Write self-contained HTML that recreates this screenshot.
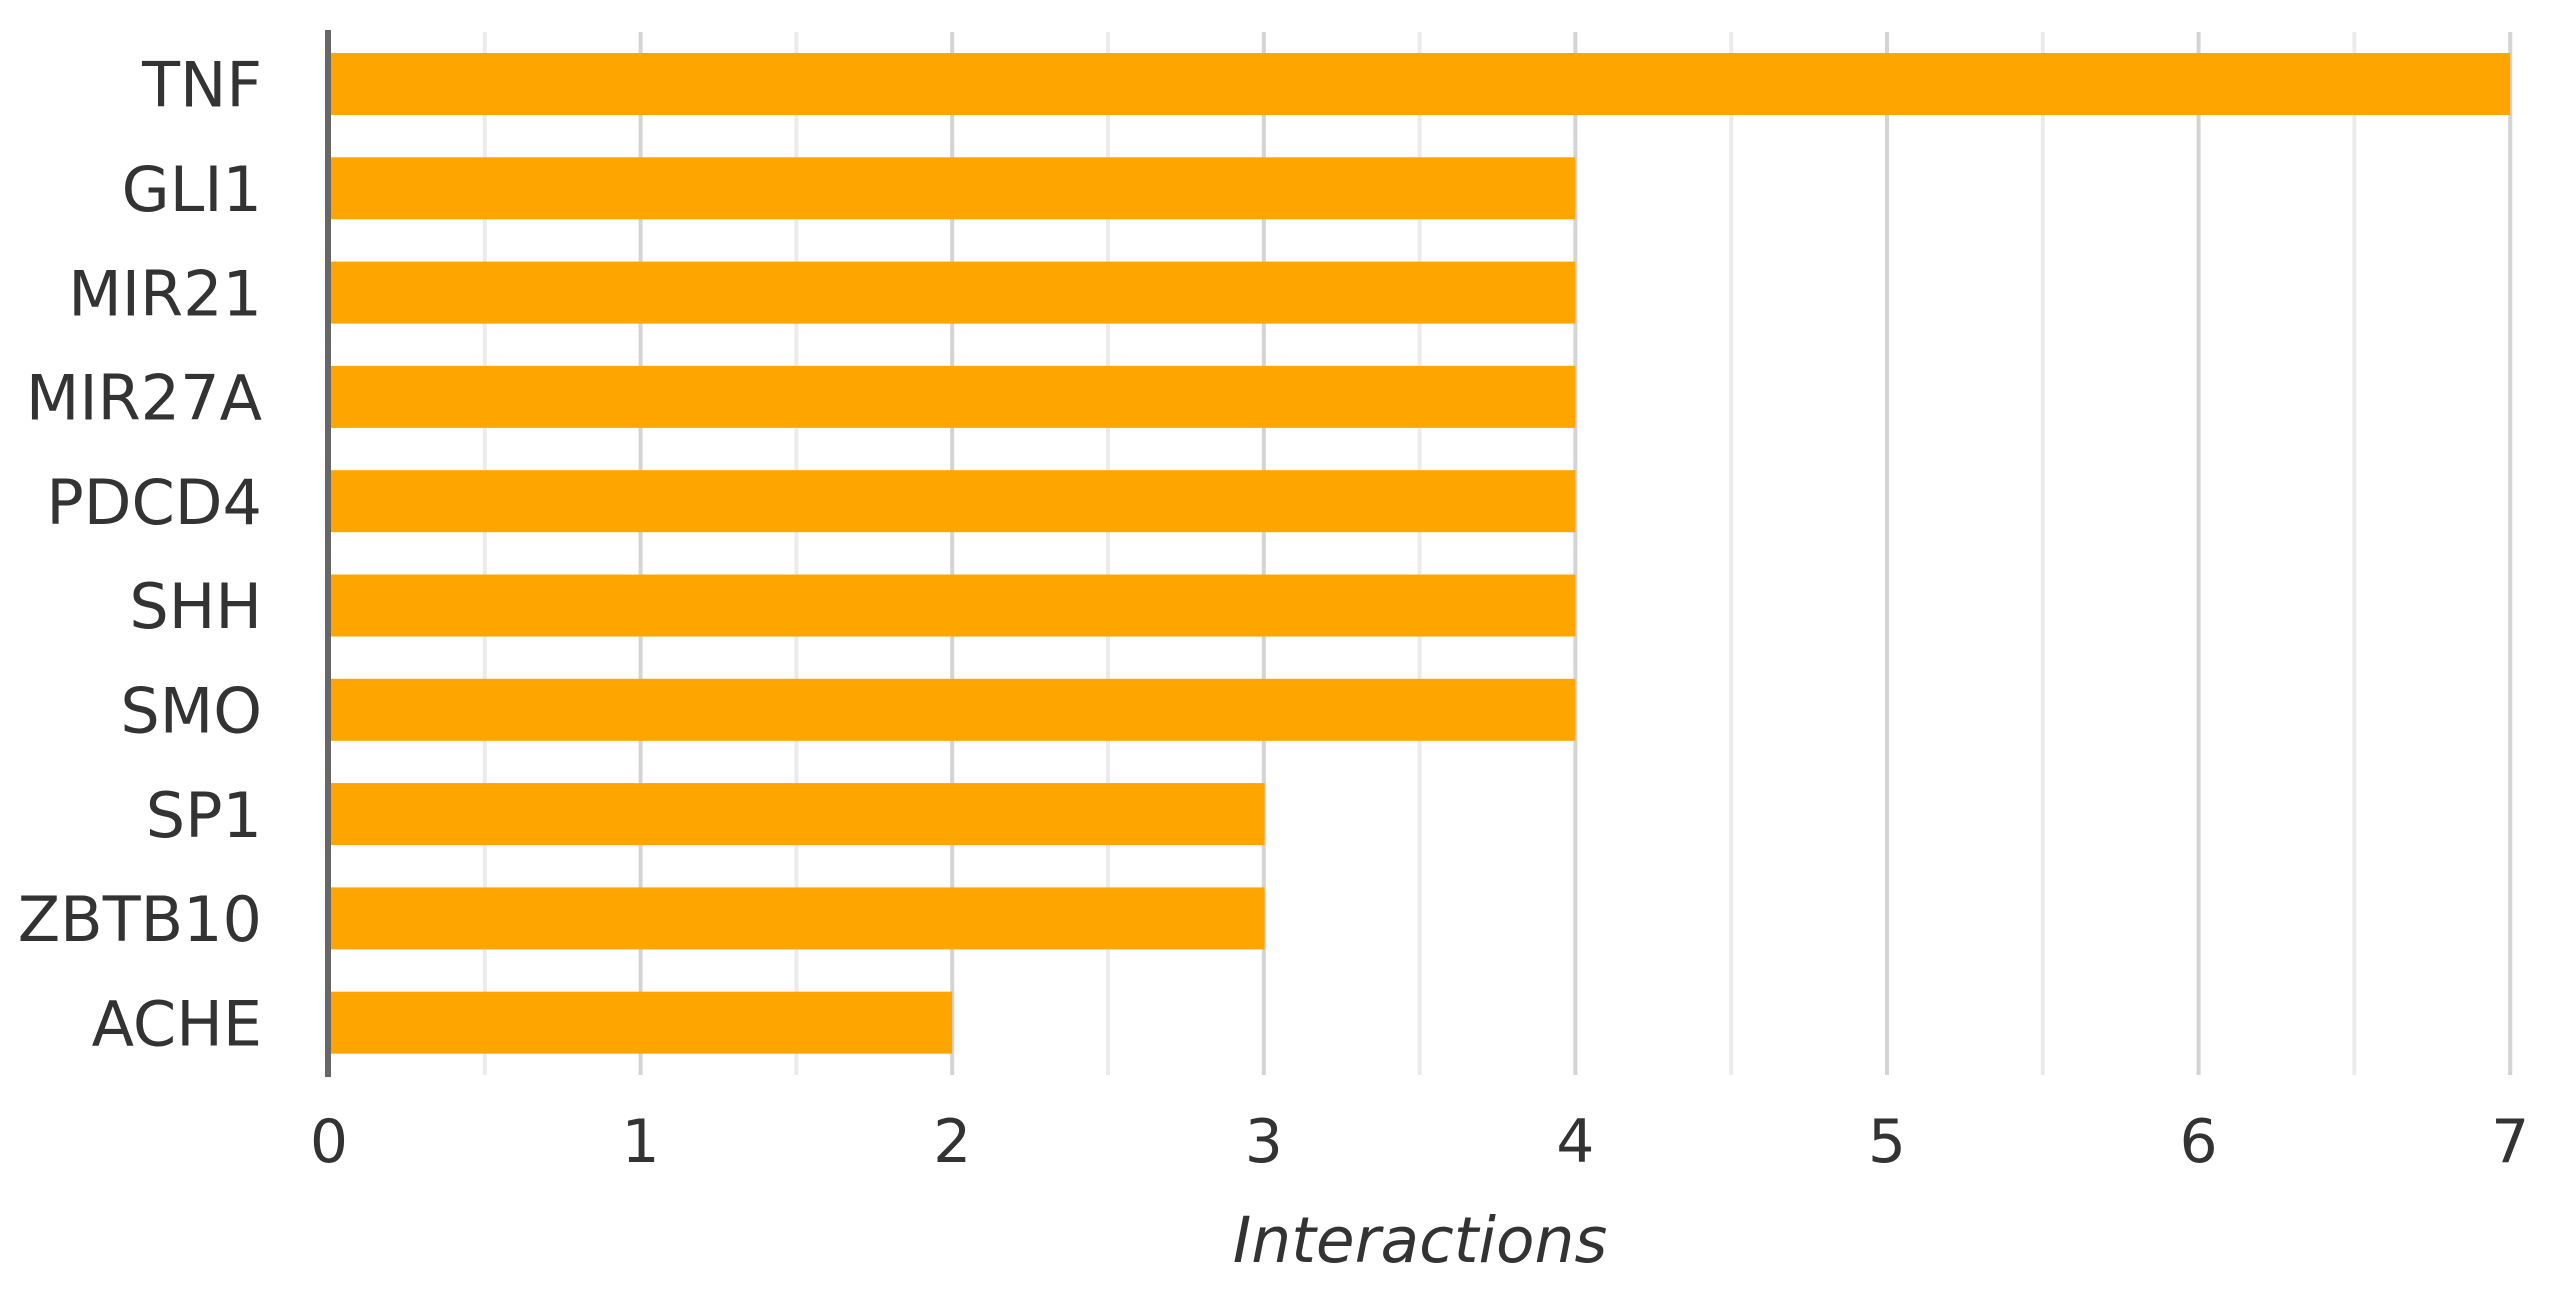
<!DOCTYPE html>
<html>
<head>
<meta charset="utf-8">
<style>
  html, body { margin: 0; padding: 0; background: #ffffff; }
  svg { display: block; }
  text { font-family: "DejaVu Sans", "Liberation Sans", sans-serif; fill: #333333; }
</style>
</head>
<body>
<svg width="2565" height="1290" viewBox="0 0 2565 1290" xmlns="http://www.w3.org/2000/svg">
  <rect x="0" y="0" width="2565" height="1290" fill="#ffffff"/>
  <!-- minor gridlines (half units) -->
  <g stroke="#ebebeb" stroke-width="4">
    <line x1="484.8" y1="32" x2="484.8" y2="1075"/>
    <line x1="796.4" y1="32" x2="796.4" y2="1075"/>
    <line x1="1108" y1="32" x2="1108" y2="1075"/>
    <line x1="1419.6" y1="32" x2="1419.6" y2="1075"/>
    <line x1="1731.2" y1="32" x2="1731.2" y2="1075"/>
    <line x1="2042.8" y1="32" x2="2042.8" y2="1075"/>
    <line x1="2354.4" y1="32" x2="2354.4" y2="1075"/>
  </g>
  <!-- major gridlines -->
  <g stroke="#d4d4d4" stroke-width="4">
    <line x1="640.6" y1="32" x2="640.6" y2="1075"/>
    <line x1="952.2" y1="32" x2="952.2" y2="1075"/>
    <line x1="1263.8" y1="32" x2="1263.8" y2="1075"/>
    <line x1="1575.4" y1="32" x2="1575.4" y2="1075"/>
    <line x1="1887" y1="32" x2="1887" y2="1075"/>
    <line x1="2198.6" y1="32" x2="2198.6" y2="1075"/>
    <line x1="2510.2" y1="32" x2="2510.2" y2="1075"/>
  </g>
  <!-- bars -->
  <g fill="#FFA500">
    <rect x="331" y="53" width="2179.2" height="62"/>
    <rect x="331" y="157.3" width="1244.4" height="62"/>
    <rect x="331" y="261.6" width="1244.4" height="62"/>
    <rect x="331" y="365.9" width="1244.4" height="62"/>
    <rect x="331" y="470.2" width="1244.4" height="62"/>
    <rect x="331" y="574.5" width="1244.4" height="62"/>
    <rect x="331" y="678.8" width="1244.4" height="62"/>
    <rect x="331" y="783.1" width="933.6" height="62"/>
    <rect x="331" y="887.4" width="933.6" height="62"/>
    <rect x="331" y="991.7" width="621.2" height="62"/>
  </g>
  <!-- axis line -->
  <line x1="328" y1="30" x2="328" y2="1077" stroke="#666666" stroke-width="6"/>
  <!-- category labels -->
  <g font-size="62" text-anchor="end">
    <text x="262" y="106.7">TNF</text>
    <text x="262" y="211">GLI1</text>
    <text x="262" y="315.3">MIR21</text>
    <text x="262" y="419.6">MIR27A</text>
    <text x="262" y="523.9">PDCD4</text>
    <text x="262" y="628.2">SHH</text>
    <text x="262" y="732.5">SMO</text>
    <text x="262" y="836.8">SP1</text>
    <text x="262" y="941.1">ZBTB10</text>
    <text x="262" y="1045.4">ACHE</text>
  </g>
  <!-- tick labels -->
  <g font-size="60" text-anchor="middle">
    <text x="329" y="1162">0</text>
    <text x="640.6" y="1162">1</text>
    <text x="952.2" y="1162">2</text>
    <text x="1263.8" y="1162">3</text>
    <text x="1575.4" y="1162">4</text>
    <text x="1887" y="1162">5</text>
    <text x="2198.6" y="1162">6</text>
    <text x="2510.2" y="1162">7</text>
  </g>
  <!-- axis title -->
  <text x="1420" y="1262" font-size="63" font-style="italic" text-anchor="middle">Interactions</text>
</svg>
</body>
</html>
